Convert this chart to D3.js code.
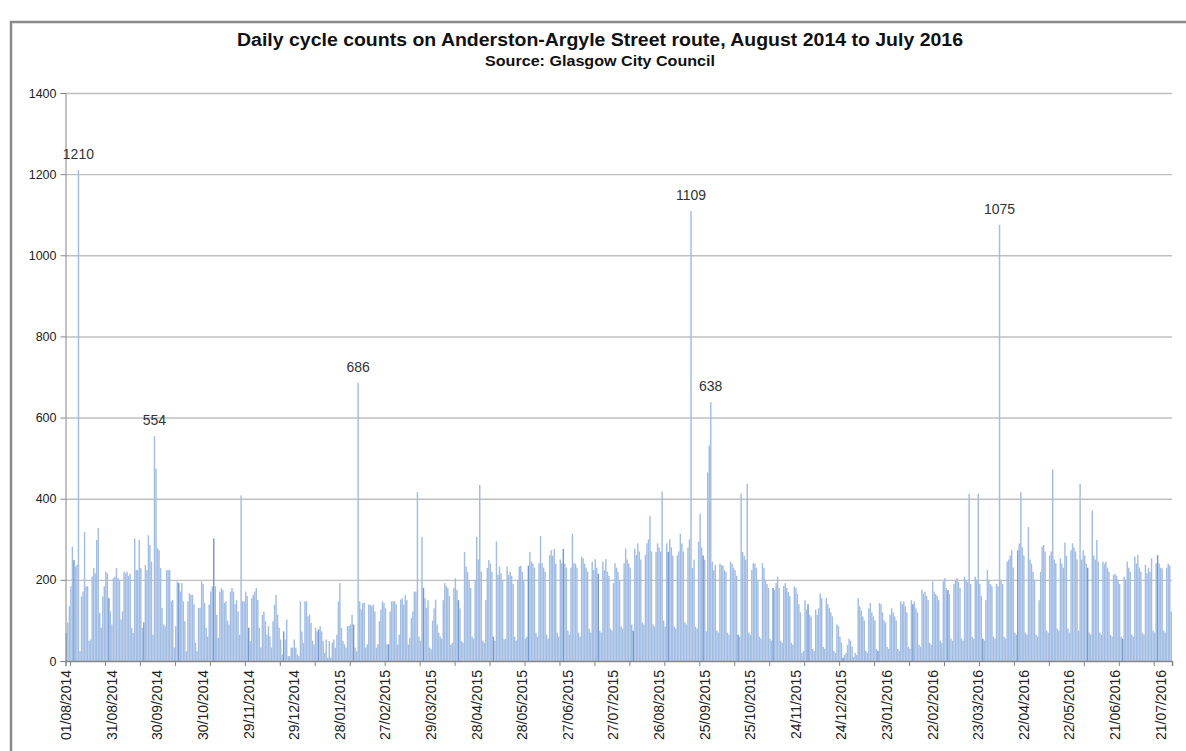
<!DOCTYPE html>
<html>
<head>
<meta charset="utf-8">
<script src="https://cdnjs.cloudflare.com/ajax/libs/d3/7.8.5/d3.min.js"></script>
<style>
  body { margin: 0; background: #fff; }
  svg text { font-family: "Liberation Sans", Arial, sans-serif; }
</style>
</head>
<body>
<svg id="chart" width="1186" height="751"></svg>
<script>
// first and last day of the series
var startDate = "01/08/2014"
var endDate = "28/07/2016"

// daily counts, one line per week (Mon..Sun)
var counts2014 = [
  70, 95, 135,
  184, 282, 249, 233, 237, 1210, 24,
  159, 171, 318, 184, 184, 49, 53,
  208, 229, 216, 298, 328, 118, 82,
  159, 184, 220, 216, 155, 122, 90,
  204, 208, 229, 204, 200, 102, 122,
  220, 216, 220, 210, 215, 82, 69,
  302, 224, 224, 298, 229, 82, 95,
  237, 224, 310, 286, 245, 65, 554,
  474, 278, 273, 229, 131, 90, 86,
  224, 224, 224, 147, 150, 33, 86,
  196, 192, 171, 192, 147, 98, 24,
  147, 167, 163, 163, 140, 45, 24,
  131, 131, 196, 190, 143, 82, 60,
  139, 171, 184, 302, 184, 114, 57,
  171, 180, 175, 143, 147, 100, 90,
  171, 180, 171, 140, 150, 122, 65,
  408, 147, 147, 171, 160, 82, 49,
  155, 163, 171, 180, 150, 82, 33,
  114, 122, 98, 65, 86, 61, 33,
  98, 139, 163, 114, 82, 53, 16,
  73, 53, 102, 12, 12, 33, 33,
  53, 33, 16
]

var counts2015 = [
  12, 147, 73, 45,
  147, 147, 110, 114, 94, 50, 40,
  82, 73, 78, 86, 73, 49, 20,
  53, 8, 49, 8, 45, 53, 33,
  65, 147, 192, 82, 49, 41, 33,
  86, 86, 90, 114, 90, 33, 24,
  686, 147, 127, 143, 143, 33, 41,
  139, 139, 135, 139, 122, 33, 41,
  98, 127, 147, 143, 130, 41, 41,
  122, 147, 147, 147, 140, 41, 65,
  151, 155, 139, 163, 150, 41, 57,
  106, 122, 171, 171, 416, 60, 50,
  306, 180, 155, 131, 150, 33, 29,
  100, 130, 151, 90, 70, 60, 55,
  150, 192, 185, 180, 160, 40, 45,
  180, 204, 175, 150, 130, 50, 45,
  269, 233, 220, 200, 180, 60, 55,
  200, 306, 250, 434, 220, 50, 45,
  150, 229, 249, 240, 220, 60, 50,
  295, 212, 233, 216, 200, 53, 55,
  233, 212, 220, 210, 190, 60, 50,
  200, 233, 235, 220, 200, 55, 60,
  235, 269, 245, 240, 230, 70, 60,
  241, 308, 241, 230, 220, 65, 55,
  261, 273, 260, 276, 240, 70, 60,
  250, 241, 276, 240, 230, 75, 65,
  230, 314, 241, 240, 230, 70, 60,
  257, 253, 240, 230, 220, 80, 70,
  245, 224, 251, 230, 215, 75, 70,
  245, 224, 251, 220, 210, 80, 75,
  192, 241, 230, 220, 200, 85, 80,
  241, 277, 250, 240, 230, 90, 75,
  277, 261, 290, 270, 250, 95, 90,
  261, 290, 300, 357, 270, 90, 85,
  269, 290, 280, 270, 418, 100, 85,
  290, 269, 300, 280, 260, 85, 80,
  260, 270, 314, 290, 270, 95, 90,
  280, 300, 1109, 229, 250, 85, 80,
  294, 363, 280, 260, 250, 73, 465,
  531, 638, 245, 224, 237, 75, 70,
  240, 237, 235, 224, 220, 70, 65,
  245, 240, 230, 224, 210, 65, 60,
  413, 269, 260, 250, 437, 70, 65,
  224, 241, 240, 230, 200, 60, 55,
  241, 230, 200, 190, 180, 55, 50,
  180, 175, 192, 208, 180, 50, 45,
  185, 192, 180, 170, 160, 45, 40,
  184, 180, 165, 140, 120, 20, 25,
  150, 127, 140, 114, 110, 30, 25,
  127, 114, 130, 167, 155, 35, 30,
  155, 140, 130, 120, 110, 25, 20,
  90, 86, 60, 45, 8, 15, 20,
  40, 55, 50, 35
]

var counts2016 = [
  10, 20, 15,
  155, 135, 125, 110, 100, 25, 20,
  130, 143, 120, 110, 100, 30, 25,
  143, 140, 120, 100, 95, 35, 30,
  114, 130, 120, 110, 100, 30, 25,
  147, 140, 147, 135, 120, 35, 30,
  150, 140, 147, 130, 120, 40, 35,
  176, 165, 171, 160, 150, 45, 40,
  196, 171, 165, 160, 150, 50, 45,
  196, 204, 180, 175, 165, 55, 50,
  190, 200, 204, 195, 180, 55, 50,
  208, 200, 195, 412, 190, 60, 55,
  208, 200, 412, 190, 160, 55, 50,
  150, 224, 200, 190, 184, 60, 55,
  190, 184, 1075, 200, 190, 60, 55,
  245, 250, 260, 273, 230, 70, 65,
  273, 290, 416, 280, 260, 70, 65,
  330, 250, 240, 220, 200, 65, 60,
  150, 220, 282, 286, 270, 75, 70,
  260, 270, 472, 250, 241, 80, 75,
  253, 240, 230, 292, 260, 80, 70,
  273, 290, 280, 270, 250, 75, 437,
  250, 273, 260, 240, 230, 70, 65,
  371, 260, 250, 298, 245, 70, 65,
  245, 240, 245, 230, 220, 65, 60,
  212, 215, 210, 200, 190, 60, 55,
  208, 200, 245, 230, 220, 65, 60,
  257, 240, 261, 230, 220, 70, 65,
  237, 216, 230, 220, 253, 75, 70,
  241, 261, 240, 230, 228, 75, 70,
  230, 240, 235, 122
]

var yTicks = [0, 200, 400, 600, 800, 1000, 1200, 1400]

var xLabels = ["01/08/2014", "31/08/2014", "30/09/2014", "30/10/2014", "29/11/2014",
  "29/12/2014", "28/01/2015", "27/02/2015", "29/03/2015", "28/04/2015", "28/05/2015",
  "27/06/2015", "27/07/2015", "26/08/2015", "25/09/2015", "25/10/2015", "24/11/2015",
  "24/12/2015", "23/01/2016", "22/02/2016", "23/03/2016", "22/04/2016", "22/05/2016",
  "21/06/2016", "21/07/2016"]

// peaks that carry a data label
var labelledPeaks = [1210, 554, 686, 1109, 638, 1075]

var title = "Daily cycle counts on Anderston-Argyle Street route, August 2014 to July 2016"
var subtitle = "Source: Glasgow City Council"

var parse = d3.timeParse("%d/%m/%Y")
var start = parse(startDate)
var days = d3.timeDay.range(start, d3.timeDay.offset(parse(endDate), 1))
var counts = counts2014.concat(counts2015, counts2016)
var data = days.map(function(d, i){ return {date: d, i: i, value: counts[i]} })

var margin = {left: 65.5, right: 1172, top: 93, bottom: 661}
var tickEvery = 23, tickFirst = 3

var svg = d3.select("#chart")

// outer frame
svg.append("rect")
    .attr("x", 11).attr("y", 22)
    .attr("width", 1200).attr("height", 760)
    .attr("fill", "none")
    .attr("stroke", "#8a8a8a")
    .attr("stroke-width", 2.5)

svg.append("text")
    .attr("x", 600).attr("y", 46)
    .attr("text-anchor", "middle")
    .attr("font-size", 17.5)
    .attr("font-weight", "bold")
    .attr("textLength", 726)
    .attr("lengthAdjust", "spacingAndGlyphs")
    .attr("fill", "#111")
    .text(title)

svg.append("text")
    .attr("x", 600).attr("y", 66)
    .attr("text-anchor", "middle")
    .attr("font-size", 14)
    .attr("font-weight", "bold")
    .attr("textLength", 230)
    .attr("lengthAdjust", "spacingAndGlyphs")
    .attr("fill", "#111")
    .text(subtitle)

var x = d3.scaleBand()
    .domain(data.map(function(d){ return d.i }))
    .range([margin.left, margin.right])
    .padding(0)

var y = d3.scaleLinear()
    .domain([0, 1400])
    .range([margin.bottom, margin.top])

// gridlines
svg.append("g")
    .attr("class", "grid")
    .attr("transform", "translate(" + margin.left + ",0)")
    .call(d3.axisLeft(y).tickValues(yTicks.slice(1)).tickSize(-(margin.right - margin.left)).tickFormat(""))
    .call(function(g){
      g.select(".domain").remove()
      g.selectAll("line").attr("stroke", "#bfbfbf").attr("stroke-width", 1.4)
    })

// bars (the bar just after each axis tick prints a shade darker, as in the original)
svg.append("g")
    .selectAll("rect")
    .data(data)
    .enter().append("rect")
    .attr("x", function(d){ return x(d.i) + 0.1 })
    .attr("width", x.bandwidth() * 0.95)
    .attr("y", function(d){ return y(d.value) })
    .attr("height", function(d){ return y(0) - y(d.value) })
    .attr("fill", function(d){
      return (d.i - tickFirst - 2) % tickEvery === 0 && d.value < 350 ? "#7398d2" : "#a2bde3"
    })

// y axis
svg.append("g")
    .attr("transform", "translate(" + margin.left + ",0)")
    .call(d3.axisLeft(y).tickValues(yTicks).tickSize(5).tickPadding(4).tickFormat(d3.format("d")))
    .call(function(g){
      g.select(".domain").attr("stroke", "#868686")
      g.selectAll("line").attr("stroke", "#868686")
      g.selectAll("text").attr("font-size", 12.5).attr("fill", "#222")
        .attr("font-family", "Liberation Sans, Arial, sans-serif")
    })

// x axis tick marks (every 23 days, on the category boundaries)
var xb = d3.scaleLinear().domain([0, data.length]).range([margin.left, margin.right])
svg.append("g")
    .attr("transform", "translate(0," + margin.bottom + ")")
    .call(d3.axisBottom(xb).tickValues(d3.range(tickFirst, data.length, tickEvery)).tickSize(5).tickFormat(""))
    .call(function(g){
      g.select(".domain").attr("stroke", "#868686").attr("stroke-width", 1.5)
      g.selectAll("line").attr("stroke", "#868686")
    })

// x labels, every 30 days
var labelIdx = xLabels.map(function(l){ return d3.timeDay.count(start, parse(l)) })
var xl = d3.scaleOrdinal().domain(labelIdx).range(xLabels)
svg.append("g")
    .attr("transform", "translate(0," + margin.bottom + ")")
    .call(d3.axisBottom(x).tickValues(labelIdx).tickSize(0).tickFormat(function(i){ return xl(i) }))
    .call(function(g){
      g.select(".domain").remove()
      g.selectAll("text")
        .attr("font-size", 14)
        .attr("fill", "#222")
        .attr("font-family", "Liberation Sans, Arial, sans-serif")
        .attr("transform", "rotate(-90)")
        .attr("text-anchor", "end")
        .attr("dx", -9)
        .attr("dy", "0.35em")
        .attr("y", 0)
    })

// data labels on the main peaks
var peaks = labelledPeaks.map(function(v){ return data.find(function(d){ return d.value === v }) })
svg.append("g")
    .selectAll("text")
    .data(peaks)
    .enter().append("text")
    .attr("x", function(d){ return x(d.i) + x.bandwidth() / 2 })
    .attr("y", function(d){ return y(d.value) - 11 })
    .attr("text-anchor", "middle")
    .attr("font-size", 14)
    .attr("font-family", "Open Sans, Liberation Sans, sans-serif")
    .attr("fill", "#333")
    .text(function(d){ return d.value })
</script>
</body>
</html>
